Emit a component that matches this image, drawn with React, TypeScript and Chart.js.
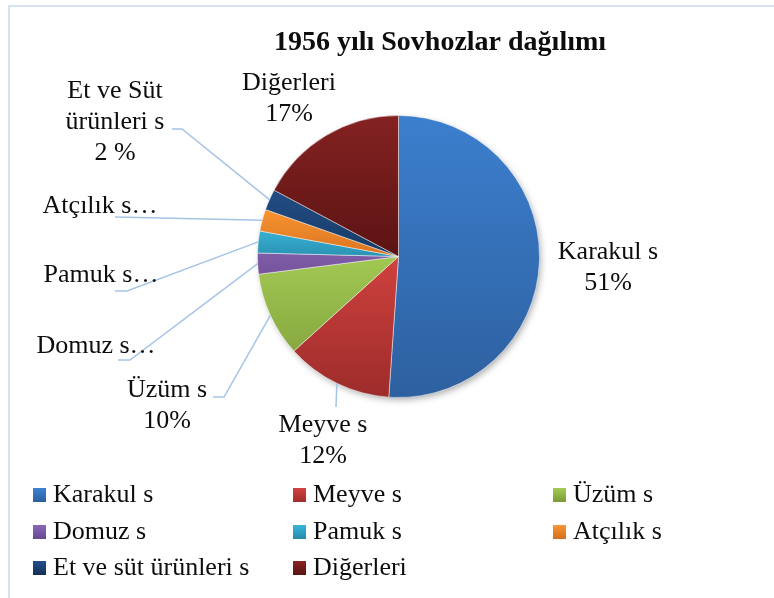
import React, { useEffect, useRef } from "react";
import { Chart, registerables } from "chart.js";

Chart.register(...registerables);

// ---------- data ----------
const chartTitle = "1956 yılı Sovhozlar dağılımı";
const categories = [
  "Karakul s",
  "Meyve s",
  "Üzüm s",
  "Domuz s",
  "Pamuk s",
  "Atçılık s",
  "Et ve süt ürünleri s",
  "Diğerleri",
];
const shares = [51.1, 12.2, 9.7, 2.4, 2.5, 2.5, 2.4, 17.2];
const dataLabelLines = [
  ["Karakul s", "51%"],
  ["Meyve s", "12%"],
  ["Üzüm s", "10%"],
  ["Domuz s…"],
  ["Pamuk s…"],
  ["Atçılık s…"],
  ["Et ve Süt", "ürünleri s", "2 %"],
  ["Diğerleri", "17%"],
];

// ---------- styles / layout ----------
const FONT = '"Liberation Serif", "Times New Roman", serif';
const TEXT_COLOR = "#0d0d0d";
const LEADER_COLOR = "#a6c4e6";

// [fracStart, colorStart, fracEnd, colorEnd] relative to pie's vertical extent
const SLICE_FILLS: [number, string, number, string][] = [
  [0, "#3c7fce", 1, "#2d609f"],
  [0.5, "#cf413e", 1, "#9c2c2a"],
  [0.5, "#a2c853", 0.95, "#7e9e3a"],
  [0.45, "#8563ae", 0.6, "#6f4f95"],
  [0.4, "#38b3d8", 0.5, "#2b92b2"],
  [0.33, "#f99432", 0.5, "#d9741f"],
  [0.26, "#224d85", 0.5, "#173a64"],
  [0, "#842222", 0.5, "#5c1313"],
];
const LEGEND_FILLS: [string, string][] = [
  ["#3d82d2", "#2d5f9e"],
  ["#d3423f", "#9f2d2b"],
  ["#a3cc52", "#7a9a36"],
  ["#8a67b6", "#664891"],
  ["#36b6dc", "#268aa8"],
  ["#fb9535", "#d56f1c"],
  ["#22508c", "#152f56"],
  ["#8a2525", "#5a1212"],
];

type LabelLayout = { x: number; y: number; line: number[][] | null };
const LABEL_LAYOUT: LabelLayout[] = [
  { x: 608, y: 259, line: null },
  { x: 323, y: 432, line: [[336, 407]] },
  { x: 167, y: 397, line: [[224, 397], [213, 397]] },
  { x: 96, y: 353, line: [[130, 360], [118, 360]] },
  { x: 101, y: 282, line: [[127, 291], [115, 291]] },
  { x: 100, y: 213, line: [[115, 217]] },
  { x: 115, y: 98, line: [[182, 129], [172, 129]] },
  { x: 289, y: 90, line: null },
];
const LABEL_LINE_HEIGHT = 31;
const LEGEND_COL_X = [33, 293, 553];
const LEGEND_ROW_BASE = [502, 539, 575];

const overlayPlugin = {
  id: "overlay",
  beforeDraw(chart: any) {
    const ctx = chart.ctx;
    ctx.save();
    ctx.fillStyle = "#ffffff";
    ctx.fillRect(0, 0, chart.width, chart.height);
    ctx.strokeStyle = "#d6e2f2";
    ctx.lineWidth = 2;
    ctx.strokeRect(9, 6, chart.width + 20, chart.height + 20);
    ctx.restore();
  },
  beforeDatasetsDraw(chart: any) {
    const meta = chart.getDatasetMeta(0);
    const arc = meta.data[0];
    if (!arc) return;
    const ctx = chart.ctx;
    ctx.save();
    ctx.shadowColor = "rgba(0,0,0,0.35)";
    ctx.shadowBlur = 7;
    ctx.shadowOffsetX = 2;
    ctx.shadowOffsetY = 3;
    ctx.fillStyle = "#ffffff";
    ctx.beginPath();
    ctx.arc(arc.x, arc.y, arc.outerRadius - 1, 0, Math.PI * 2);
    ctx.fill();
    ctx.restore();
  },
  afterDatasetsDraw(chart: any) {
    const ctx = chart.ctx;
    const meta = chart.getDatasetMeta(0);
    ctx.save();

    // leader lines
    ctx.strokeStyle = LEADER_COLOR;
    ctx.lineWidth = 1.5;
    meta.data.forEach((arc: any, i: number) => {
      const lay = LABEL_LAYOUT[i];
      if (!lay || !lay.line) return;
      const mid = (arc.startAngle + arc.endAngle) / 2;
      const px = arc.x + arc.outerRadius * Math.cos(mid);
      const py = arc.y + arc.outerRadius * Math.sin(mid);
      ctx.beginPath();
      ctx.moveTo(px, py);
      lay.line.forEach((p) => ctx.lineTo(p[0], p[1]));
      ctx.stroke();
    });

    // data labels
    ctx.fillStyle = TEXT_COLOR;
    ctx.font = `26px ${FONT}`;
    ctx.textAlign = "center";
    ctx.textBaseline = "alphabetic";
    dataLabelLines.forEach((lines, i) => {
      const lay = LABEL_LAYOUT[i];
      lines.forEach((t, k) => ctx.fillText(t, lay.x, lay.y + k * LABEL_LINE_HEIGHT));
    });

    // title
    ctx.font = `bold 28px ${FONT}`;
    ctx.fillText(chartTitle, 440, 50);

    // legend
    ctx.font = `26px ${FONT}`;
    ctx.textAlign = "left";
    categories.forEach((name, i) => {
      const col = i % 3;
      const row = Math.floor(i / 3);
      const mx = LEGEND_COL_X[col];
      const base = LEGEND_ROW_BASE[row];
      const g = ctx.createLinearGradient(0, base - 14, 0, base);
      g.addColorStop(0, LEGEND_FILLS[i][0]);
      g.addColorStop(1, LEGEND_FILLS[i][1]);
      ctx.fillStyle = g;
      ctx.fillRect(mx, base - 14, 13, 14);
      ctx.fillStyle = TEXT_COLOR;
      ctx.fillText(name, mx + 20, base);
    });

    ctx.restore();
  },
};

export default function App() {
  const canvasRef = useRef<HTMLCanvasElement | null>(null);

  useEffect(() => {
    const canvas = canvasRef.current;
    if (!canvas) return;
    const chart = new Chart(canvas, {
      type: "pie",
      data: {
        labels: categories,
        datasets: [
          {
            data: shares,
            backgroundColor: (c: any) => {
              const i = c.dataIndex;
              const spec = SLICE_FILLS[i];
              if (!spec) return "#888";
              const area = c.chart.chartArea;
              if (!area) return spec[1];
              const h = area.bottom - area.top;
              const g = c.chart.ctx.createLinearGradient(
                0,
                area.top + spec[0] * h,
                0,
                area.top + spec[2] * h
              );
              g.addColorStop(0, spec[1]);
              g.addColorStop(1, spec[3]);
              return g;
            },
            borderColor: "rgba(255,255,255,0.45)",
            borderWidth: 1,
          },
        ],
      },
      options: {
        responsive: false,
        animation: false,
        devicePixelRatio: 1,
        layout: { padding: { left: 257, right: 234, top: 115, bottom: 200 } },
        plugins: {
          legend: { display: false },
          title: { display: false },
          tooltip: { enabled: false },
        },
      },
      plugins: [overlayPlugin],
    });
    return () => chart.destroy();
  }, []);

  return (
    <div style={{ position: "absolute", left: 0, top: 0, width: 774, height: 598 }}>
      <canvas ref={canvasRef} width={774} height={598} />
    </div>
  );
}
